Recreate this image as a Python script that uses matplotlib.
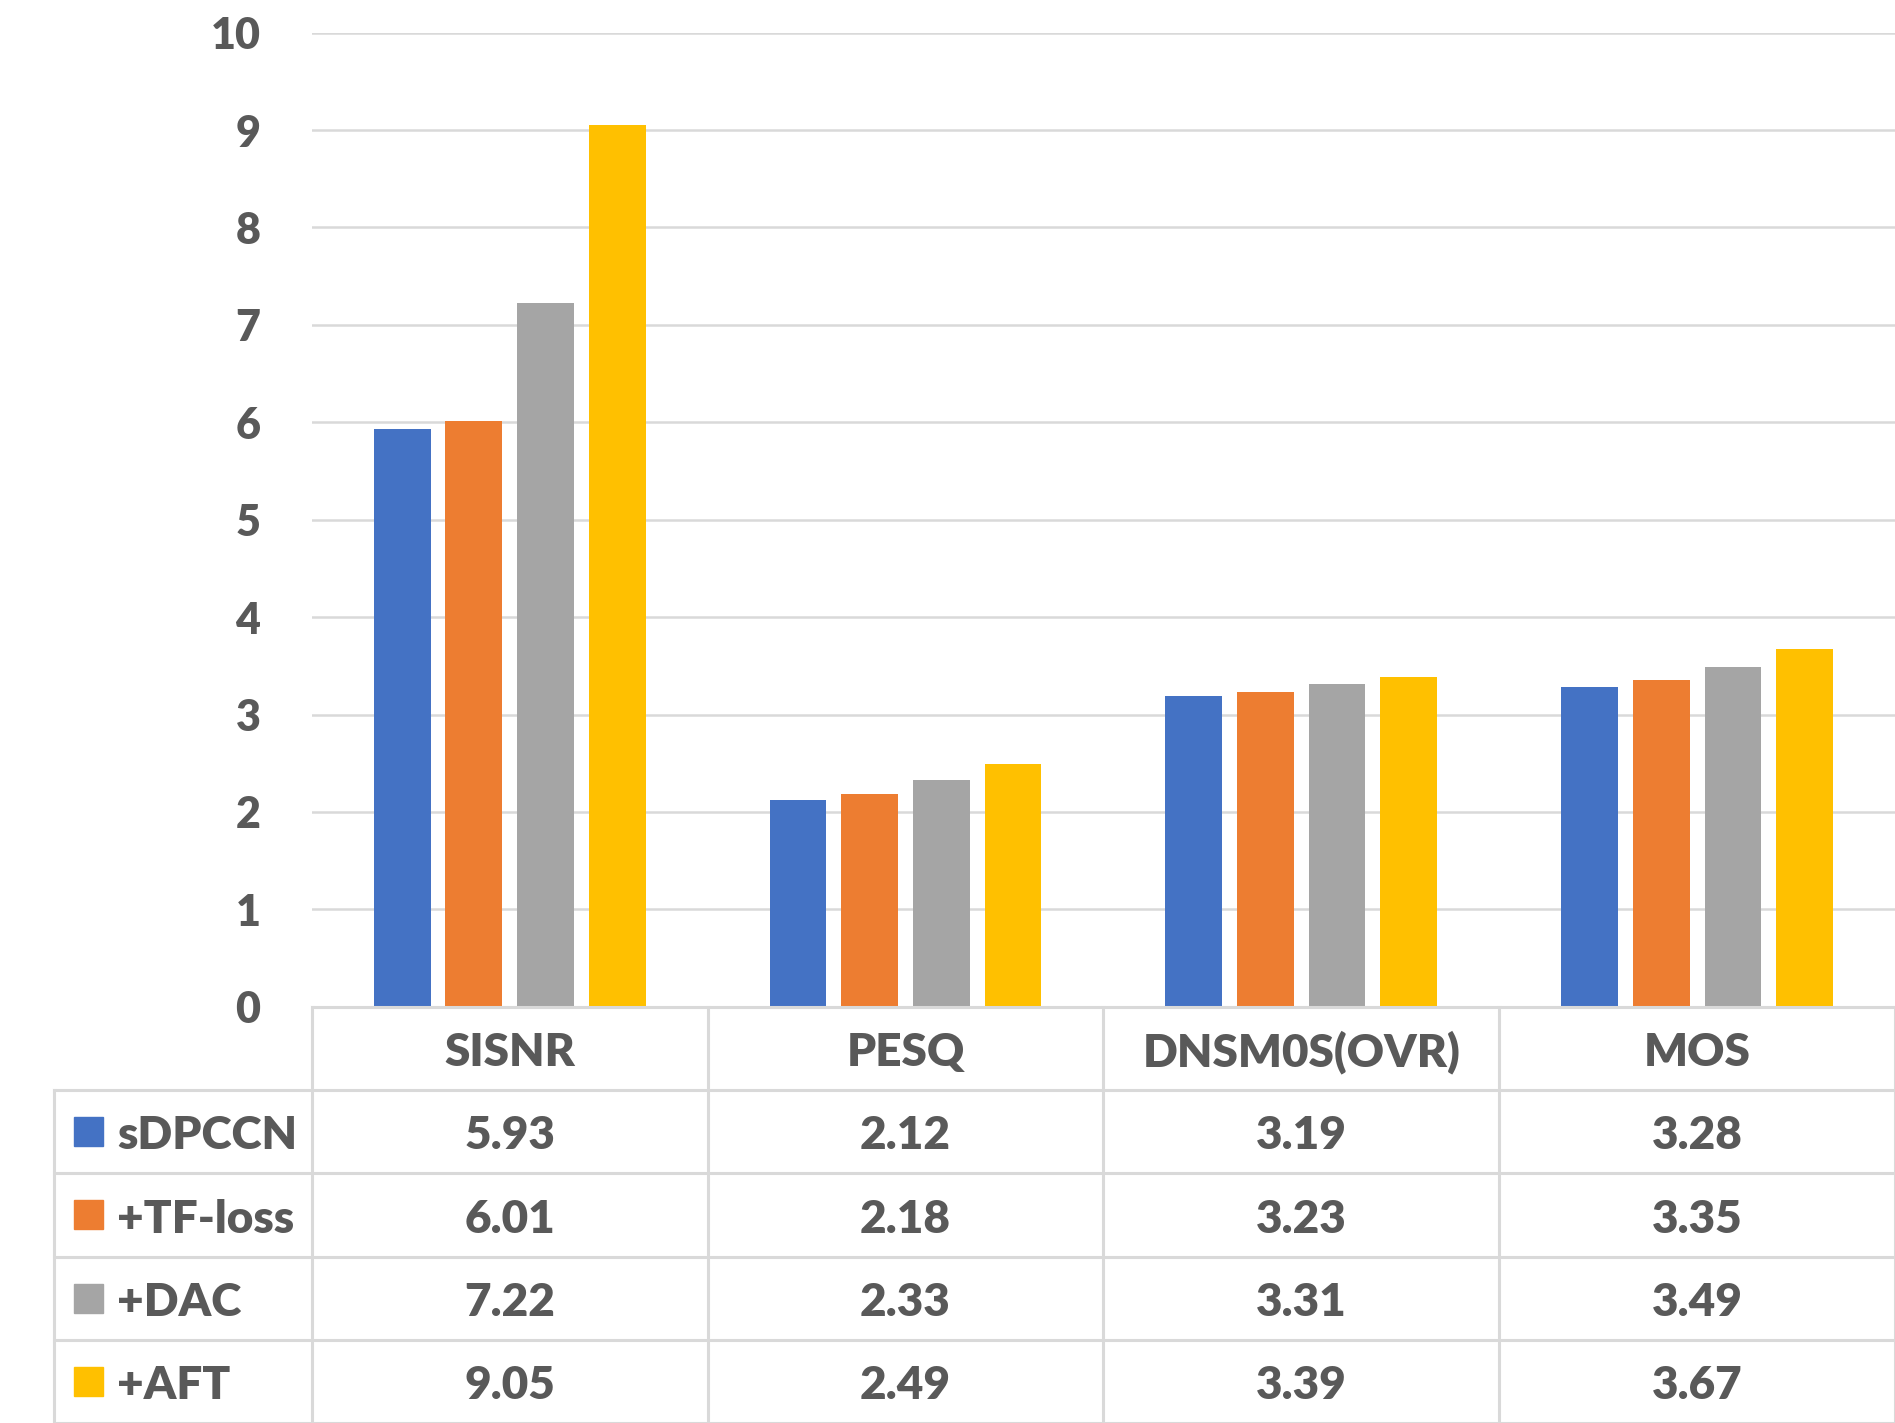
import numpy as np
import matplotlib.pyplot as plt

metrics = ['SISNR', 'PESQ', 'DNSM0S(OVR)', 'MOS']
models = ['sDPCCN', '+TF-loss', '+DAC', '+AFT']
scores = {
    'sDPCCN': [5.93, 2.12, 3.19, 3.28],
    '+TF-loss': [6.01, 2.18, 3.23, 3.35],
    '+DAC': [7.22, 2.33, 3.31, 3.49],
    '+AFT': [9.05, 2.49, 3.39, 3.67],
}
colors = ['#4472C4', '#ED7D31', '#A5A5A5', '#FFC000']
text_color = '#595959'
line_color = '#D9D9D9'

plt.rcParams['font.family'] = ['Lato', 'DejaVu Sans']
plt.rcParams['font.weight'] = 'heavy'

fig = plt.figure(figsize=(18.95, 14.23), dpi=100)
ax_left, ax_bottom = 0.1645, 0.2925
ax = fig.add_axes([ax_left, ax_bottom, 1 - ax_left, 0.9771 - ax_bottom])

x = np.arange(len(metrics))
step, width = 0.181, 0.1435
for i, m in enumerate(models):
    ax.bar(x + (i - 1.5) * step, scores[m], width, color=colors[i], zorder=3)

ax.set_xlim(-0.5, 3.5)
ax.set_ylim(0, 10)
ax.set_yticks(range(0, 11))
ax.grid(axis='y', color=line_color, linewidth=1.8, zorder=0)
ax.tick_params(axis='y', length=0, pad=37, labelsize=31, labelcolor=text_color)
ax.set_xticks([])
for s in ax.spines.values():
    s.set_visible(False)

# data table under the chart
tb = fig.add_axes([ax_left, 0, 1 - ax_left, ax_bottom])
tb.set_xlim(-0.5, 3.5)
tb.set_ylim(0, 5)
tb.axis('off')
lw = 2.2
xl = -1.15
tb.plot([-0.5, 3.5], [5, 5], color=line_color, lw=lw, clip_on=False)
for r in range(0, 5):
    tb.plot([xl, 3.5], [r, r], color=line_color, lw=lw, clip_on=False)
tb.plot([xl, xl], [0, 4], color=line_color, lw=lw, clip_on=False)
for c in range(len(metrics) + 1):
    tb.plot([c - 0.5, c - 0.5], [0, 5], color=line_color, lw=lw, clip_on=False)

dy = 0.05
for j, name in enumerate(metrics):
    tb.text(j, 4.5 - dy, name, ha='center', va='center', fontsize=33,
            color=text_color)
for i, m in enumerate(models):
    yc = 3.5 - i
    tb.add_patch(plt.Rectangle((-1.1012, yc - 0.175), 0.0733, 0.35,
                               color=colors[i], clip_on=False))
    tb.text(-0.991, yc - dy, m, ha='left', va='center', fontsize=33,
            color=text_color)
    for j, v in enumerate(scores[m]):
        tb.text(j, yc - dy, f'{v:.2f}', ha='center', va='center', fontsize=33,
                color=text_color)

fig.savefig('out.png', dpi=100)
